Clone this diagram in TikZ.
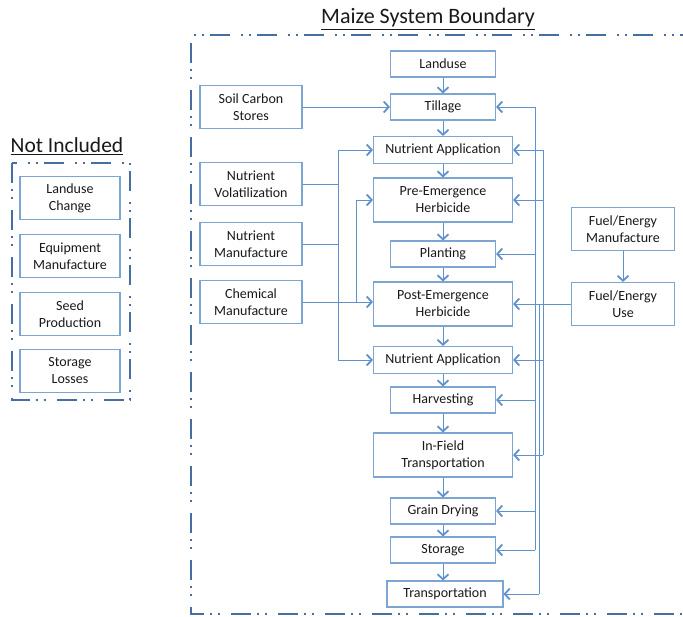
\documentclass[tikz,border=0pt]{standalone}
\usepackage{fontspec}
\setmainfont{Carlito}
\usetikzlibrary{arrows.meta}
\definecolor{boxc}{RGB}{125,165,212}
\definecolor{arrc}{RGB}{95,145,205}
\definecolor{bnd}{RGB}{70,110,160}
\begin{document}
\begin{tikzpicture}[x=1pt,y=-1pt,
 box/.style={draw=boxc,line width=1.1pt,align=center,inner sep=0pt,font=\fontsize{14}{17}\selectfont,text=black!90},
 sbox/.style={box,minimum width=105pt,minimum height=26pt},
 wbox/.style={box,minimum width=139pt,minimum height=27pt},
 tbox/.style={box,minimum width=139pt,minimum height=44pt},
 lbox/.style={box,minimum width=102pt,minimum height=43pt},
 conn/.style={draw=arrc,line width=0.9pt},
 arr/.style={conn,-{Straight Barb[length=5pt,width=11pt,line width=1.8pt]}},
 bound/.style={draw=bnd,line width=2.4pt,dash pattern=on 20pt off 6pt on 2pt off 6pt on 2pt off 11pt},
 ttl/.style={font=\fontsize{22}{26}\selectfont,text=black!90,inner sep=0pt},
]
\useasboundingbox (0,0) rectangle (683,617);

% titles
\node[ttl] (t1) at (428,19) {\underline{Maize System Boundary}};
\node[ttl,font=\fontsize{21.5}{26}\selectfont] (t2) at (67,146) {\underline{Not Included}};

% boundaries
\draw[bound] (700,35) -- (191,35) -- (191,614) -- (700,614);
\draw[bound,line width=2pt] (12,163) rectangle (130,400);

% not included
\node[lbox,minimum width=100pt] (lc) at (70,198) {Landuse\\Change};
\node[lbox,minimum width=100pt] (em) at (70,256) {Equipment\\Manufacture};
\node[lbox,minimum width=100pt] (sp) at (70,314) {Seed\\Production};
\node[lbox,minimum width=100pt] (sl) at (70,371) {Storage\\Losses};

% main column
\node[sbox] (land) at (443,64) {Landuse};
\node[sbox] (till) at (443,107) {Tillage};
\node[wbox] (na1) at (443,150) {Nutrient Application};
\node[tbox] (pre) at (443,200) {Pre-Emergence\\Herbicide};
\node[sbox] (plant) at (443,254) {Planting};
\node[tbox] (post) at (443,304) {Post-Emergence\\Herbicide};
\node[wbox] (na2) at (443,360) {Nutrient Application};
\node[sbox] (harv) at (443,400) {Harvesting};
\node[tbox] (infield) at (443,455) {In-Field\\Transportation};
\node[sbox] (dry) at (443,511) {Grain Drying};
\node[sbox] (stor) at (443,550) {Storage};
\node[sbox,minimum width=116pt] (trans) at (445,594) {Transportation};

% left inputs
\node[lbox] (soil) at (251,107) {Soil Carbon\\Stores};
\node[lbox] (nvol) at (251,184) {Nutrient\\Volatilization};
\node[lbox] (nman) at (251,244) {Nutrient\\Manufacture};
\node[lbox] (chem) at (251,302) {Chemical\\Manufacture};

% right inputs
\node[lbox,minimum width=103pt] (fman) at (623,229) {Fuel/Energy\\Manufacture};
\node[lbox,minimum width=103pt] (fuse) at (623,304) {Fuel/Energy\\Use};

% helper x positions
\coordinate (xl) at (338,0);
\coordinate (xc) at (356,0);
\coordinate (xa) at (535,0);
\coordinate (xt) at (539,0);
\coordinate (xb) at (543,0);

% main flow
\draw[arr] (land) -- (till);
\draw[arr] (till) -- (na1);
\draw[arr] (na1) -- (pre);
\draw[arr] (pre) -- (plant);
\draw[arr] (plant) -- (post);
\draw[arr] (post) -- (na2);
\draw[arr] (na2) -- (harv);
\draw[arr] (harv) -- (infield);
\draw[arr] (infield) -- (dry);
\draw[arr] (dry) -- (stor);
\draw[arr] (stor.south) -- (stor.south |- trans.north);

% left connectors
\draw[arr] (soil.east) -- (till.west);
\draw[conn] (nvol.east) -- (xl |- nvol.east);
\draw[conn] (nman.east) -- (xl |- nman.east);
\draw[conn] (xl |- na1.west) -- (xl |- na2.west);
\draw[arr] (xl |- na1.west) -- (na1.west);
\draw[arr] (xl |- na2.west) -- (na2.west);
\draw[arr] (chem.east) -- (chem.east -| post.west);
\draw[conn] (xc |- chem.east) -- (xc |- pre.west);
\draw[arr] (xc |- pre.west) -- (pre.west);

% right connectors
\draw[arr] (fman) -- (fuse);
\draw[arr] (fuse.west) -- (post.east);
\draw[conn] (xa |- till.east) -- (xa |- stor.east);
\draw[conn] (xb |- na1.east) -- (xb |- infield.east);
\draw[conn] (xt |- post.east) -- (xt |- trans.east);
\draw[arr] (xa |- till.east) -- (till.east);
\draw[arr] (xa |- plant.east) -- (plant.east);
\draw[arr] (xa |- harv.east) -- (harv.east);
\draw[arr] (xa |- dry.east) -- (dry.east);
\draw[arr] (xa |- stor.east) -- (stor.east);
\draw[arr] (xb |- na1.east) -- (na1.east);
\draw[arr] (xb |- pre.east) -- (pre.east);
\draw[arr] (xb |- na2.east) -- (na2.east);
\draw[arr] (xb |- infield.east) -- (infield.east);
\draw[arr] (xt |- trans.east) -- (trans.east);
\end{tikzpicture}
\end{document}
